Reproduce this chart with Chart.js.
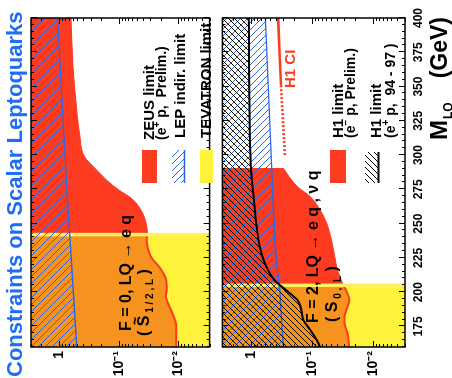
<!DOCTYPE html>
<html>
<head>
<meta charset="utf-8">
<script src="https://cdn.jsdelivr.net/npm/chart.js@4.4.1/dist/chart.umd.min.js"></script>
<style>
  html, body { margin:0; padding:0; background:#fff; width:452px; height:378px; overflow:hidden; }
  #rot { position:absolute; left:0; top:0; width:378px; height:452px; transform-origin:0 0; transform:translate(0px,378px) rotate(-90deg); }
  #c1 { position:absolute; left:0; top:0; }
  #c2 { position:absolute; left:0; top:210px; }
</style>
</head>
<body>
<div id="rot">
  <canvas id="c1" width="378" height="222"></canvas>
  <canvas id="c2" width="378" height="242"></canvas>
</div>
<script>
// ---- axis ranges and tick labels ----
const massRange = [160, 400];
const lambdaRange = [0.003, 3];
const massTickLabels = [175, 200, 225, 250, 275, 300, 325, 350, 375, 400];
const lambdaMajorTicks = [0.01, 0.1, 1];
const lambdaTickLabels = ['10⁻²', '10⁻¹', '1'];

// ---- F = 0 panel (S~1/2,L) ----
const tevatronF0 = 242;
const zeusMass   = [160, 175, 183, 191, 197, 202, 210, 217, 226, 239, 242, 248, 258.5, 268, 275, 280, 289, 299, 316, 340, 364, 400];
const zeusLambda = [0.0109, 0.0109, 0.0122, 0.0147, 0.0164, 0.0158, 0.0164, 0.020, 0.029, 0.034, 0.033, 0.034, 0.041, 0.060, 0.104, 0.145, 0.235, 0.38, 0.46, 0.53, 0.59, 0.64];
const lepF0Mass   = [160, 275, 400];
const lepF0Lambda = [0.51, 0.75, 1.07];

// ---- F = 2 panel (S0,L) ----
const tevatronF2 = 205;
const h1eMinusMass   = [160, 170, 177.5, 182, 189.4, 194.3, 200, 205, 216, 226, 238, 250.5, 260, 269.7, 277, 290.6];
const h1eMinusLambda = [0.0246, 0.0265, 0.0296, 0.0296, 0.0263, 0.0246, 0.027, 0.031, 0.0384, 0.0429, 0.0484, 0.0582, 0.0746, 0.108, 0.176, 0.304];
const h1ePlusMass   = [160, 165, 172.4, 179.7, 189.4, 194.3, 201.6, 208.9, 218.6, 233.2, 247.8, 272.4, 292.8, 400];
const h1ePlusLambda = [0.0746, 0.0843, 0.108, 0.140, 0.156, 0.176, 0.272, 0.42, 0.57, 0.73, 0.82, 0.93, 1.03, 1.11];
const lepF2Mass   = [160, 205, 224, 296, 400];
const lepF2Lambda = [0.30, 0.35, 0.39, 0.47, 0.59];
const h1ciSolidMass    = [351, 400];
const h1ciSolidLambda  = [0.327, 0.364];
const h1ciDottedMass   = [300, 351];
const h1ciDottedLambda = [0.282, 0.327];

// ---- styles ----
const FONT = "'Liberation Sans', Arial, Helvetica, sans-serif";
const RED = '#fc3b20', ORANGE = '#f6931f', YELLOW = '#fff23a', YLINE = '#fff060';
const BLUE = '#2b66e8', TITLE = '#1f6df5', BLACK = '#000';
const OFF2 = 210;

const pts = (ms, ls) => ms.map((m, i) => ({ x: m, y: ls[i] }));

function hatch(ctxRef, color, dir, n, lw) {
  const c = document.createElement('canvas'); c.width = n; c.height = n;
  const g = c.getContext('2d');
  g.strokeStyle = color; g.lineWidth = lw;
  g.beginPath();
  for (const o of [-n, 0, n]) {
    if (dir === '\\') { g.moveTo(o - 1, -1); g.lineTo(o + n + 1, n + 1); }
    else { g.moveTo(o - 1, n + 1); g.lineTo(o + n + 1, -1); }
  }
  g.stroke();
  return ctxRef.createPattern(c, 'repeat');
}

function runs(ctx, x, y, parts) {
  for (const p of parts) {
    ctx.font = `bold ${p.s}px ${FONT}`;
    ctx.fillText(p.t, x, y + (p.dy || 0));
    x += ctx.measureText(p.t).width;
  }
  return x;
}

function frameAndTicks(chart) {
  const { ctx, chartArea: a } = chart;
  const xs = chart.scales.x, ys = chart.scales.y;
  ctx.save();
  ctx.strokeStyle = BLACK; ctx.lineWidth = 1;
  ctx.beginPath();
  for (let m = massRange[0]; m <= massRange[1]; m += 5) {
    const px = Math.round(xs.getPixelForValue(m)) + 0.5;
    const len = massTickLabels.includes(m) ? 6 : 3;
    ctx.moveTo(px, a.top); ctx.lineTo(px, a.top + len);
    ctx.moveTo(px, a.bottom); ctx.lineTo(px, a.bottom - len);
  }
  for (let e = -3; e <= 0; e++) {
    for (let k = 1; k <= 9; k++) {
      const v = k * Math.pow(10, e);
      if (v < lambdaRange[0] * 0.999 || v > lambdaRange[1] * 1.001) continue;
      const py = Math.round(ys.getPixelForValue(v)) + 0.5;
      const len = k === 1 ? 6 : 3;
      ctx.moveTo(a.left, py); ctx.lineTo(a.left + len, py);
      ctx.moveTo(a.right, py); ctx.lineTo(a.right - len, py);
    }
  }
  ctx.stroke();
  ctx.lineWidth = 1.5;
  ctx.strokeRect(a.left, a.top, a.right - a.left, a.bottom - a.top);
  ctx.restore();
}

function baseOptions(padTop, padBottom, showX) {
  return {
    responsive: false, animation: false, devicePixelRatio: 1, events: [],
    layout: { padding: { left: 0, right: 18, top: padTop, bottom: padBottom } },
    elements: { point: { radius: 0, hitRadius: 0 }, line: { cubicInterpolationMode: 'monotone' } },
    plugins: { legend: { display: false }, tooltip: { enabled: false }, title: { display: false } },
    scales: {
      x: {
        type: 'linear', min: massRange[0], max: massRange[1], bounds: 'data', display: showX,
        grid: { display: false, drawTicks: false }, border: { display: false },
        afterBuildTicks: s => { s.ticks = massTickLabels.map(v => ({ value: v })); },
        ticks: { autoSkip: false, maxRotation: 0, minRotation: 0, padding: 6, color: BLACK,
                 font: { family: FONT, size: 12, weight: 'bold' }, callback: v => String(v) },
        afterFit: s => { s.height = showX ? 47 : 0; }
      },
      y: {
        type: 'logarithmic', min: lambdaRange[0], max: lambdaRange[1], bounds: 'data',
        grid: { display: false, drawTicks: false }, border: { display: false },
        afterBuildTicks: s => { s.ticks = lambdaMajorTicks.map(v => ({ value: v })); },
        ticks: { autoSkip: false, padding: 4, color: BLACK,
                 font: { family: FONT, size: 14, weight: 'bold' },
                 callback: (v, i) => lambdaTickLabels[i] },
        afterFit: s => { s.width = 31; }
      }
    }
  };
}

// ---------------- Panel F = 0 ----------------
const c1 = document.getElementById('c1');
const ctx1 = c1.getContext('2d');
const blueHatch1 = hatch(ctx1, BLUE, '\\', 7, 1);
const zeusPts = pts(zeusMass, zeusLambda);

const texts1 = {
  id: 'texts1',
  afterDatasetsDraw(chart) {
    frameAndTicks(chart);
    const ctx = chart.ctx;
    ctx.save();
    ctx.textAlign = 'left'; ctx.textBaseline = 'alphabetic';
    ctx.fillStyle = TITLE;
    runs(ctx, 1, 21.5, [{ t: 'Constraints on Scalar Leptoquarks', s: 22 }]);
    ctx.fillStyle = BLACK;
    runs(ctx, 47, 131, [{ t: 'F = 0, LQ → e q', s: 16 }]);
    let x = runs(ctx, 42, 149, [{ t: '( ', s: 16 }]);
    ctx.font = `bold 16px ${FONT}`;
    const sw = ctx.measureText('S').width;
    ctx.textAlign = 'center';
    runs(ctx, x + sw / 2, 140, [{ t: '~', s: 14 }]);
    ctx.textAlign = 'left';
    runs(ctx, x, 149, [{ t: 'S', s: 16 }, { t: ' 1 / 2 , L', s: 10, dy: 4 }, { t: ' )', s: 16 }]);
    // legend
    ctx.fillStyle = RED; ctx.fillRect(195, 142, 33, 15);
    ctx.fillStyle = blueHatch1; ctx.fillRect(195, 172, 33, 12);
    ctx.strokeStyle = BLUE; ctx.lineWidth = 1.5;
    ctx.beginPath(); ctx.moveTo(195, 184.5); ctx.lineTo(228, 184.5); ctx.stroke();
    ctx.fillStyle = YELLOW; ctx.fillRect(195, 200, 33, 13);
    ctx.fillStyle = BLACK;
    runs(ctx, 238, 153.5, [{ t: 'ZEUS limit', s: 15 }]);
    runs(ctx, 238, 165.5, [{ t: '(e', s: 14 }, { t: '+', s: 10, dy: -6 }, { t: ' p,  Prelim.)', s: 14 }]);
    runs(ctx, 240, 185, [{ t: 'LEP indir. limit', s: 15 }]);
    runs(ctx, 240, 210.5, [{ t: 'TEVATRON limit', s: 15 }]);
    ctx.restore();
  }
};

new Chart(c1, {
  type: 'line',
  data: {
    datasets: [
      { data: [{ x: massRange[0], y: lambdaRange[0] }, { x: tevatronF0, y: lambdaRange[0] }],
        fill: 'end', backgroundColor: YELLOW, borderWidth: 0, order: 10, clip: 0 },
      { data: zeusPts.filter(p => p.x <= tevatronF0), fill: 'end', backgroundColor: ORANGE,
        borderColor: RED, borderWidth: 2, order: 9, clip: 0 },
      { data: zeusPts.filter(p => p.x >= tevatronF0), fill: 'end', backgroundColor: RED,
        borderColor: RED, borderWidth: 1, order: 8, clip: 0 },
      { data: [{ x: tevatronF0, y: lambdaRange[0] }, { x: tevatronF0, y: lambdaRange[1] }],
        fill: false, borderColor: YLINE, borderWidth: 3.5, cubicInterpolationMode: 'default', tension: 0, order: 7, clip: 0 },
      { data: pts(lepF0Mass, lepF0Lambda), fill: 'end', backgroundColor: blueHatch1,
        borderColor: BLUE, borderWidth: 1.4, order: 6, clip: 0 }
    ]
  },
  options: baseOptions(31, 4, false),
  plugins: [texts1]
});

// ---------------- Panel F = 2 ----------------
const c2 = document.getElementById('c2');
const ctx2 = c2.getContext('2d');
const blueHatch2 = hatch(ctx2, BLUE, '\\', 7, 1);
const blackHatch2 = hatch(ctx2, BLACK, '/', 6, 1);
const h1mPts = pts(h1eMinusMass, h1eMinusLambda);

const texts2 = {
  id: 'texts2',
  afterDatasetsDraw(chart) {
    frameAndTicks(chart);
    const ctx = chart.ctx;
    ctx.save();
    ctx.textAlign = 'left'; ctx.textBaseline = 'alphabetic';
    ctx.fillStyle = BLACK;
    runs(ctx, 55, 318 - OFF2, [{ t: 'F = 2, LQ → e q , ν q', s: 16 }]);
    runs(ctx, 56, 337 - OFF2, [{ t: '( S', s: 16 }, { t: ' 0 ,  L', s: 10, dy: 4 }, { t: ' )', s: 16 }]);
    // legend
    ctx.fillStyle = RED; ctx.fillRect(195, 330 - OFF2, 33, 16);
    ctx.fillStyle = blackHatch2; ctx.fillRect(195, 365 - OFF2, 31, 13);
    ctx.strokeStyle = BLACK; ctx.lineWidth = 2;
    ctx.beginPath(); ctx.moveTo(195, 378.5 - OFF2); ctx.lineTo(226, 378.5 - OFF2); ctx.stroke();
    ctx.fillStyle = BLACK;
    runs(ctx, 240, 343 - OFF2, [{ t: 'H1 limit', s: 15 }]);
    runs(ctx, 240, 355 - OFF2, [{ t: '(e', s: 14 }, { t: '−', s: 10, dy: -6 }, { t: ' p, Prelim.)', s: 14 }]);
    runs(ctx, 240, 381 - OFF2, [{ t: 'H1 limit', s: 15 }]);
    runs(ctx, 240, 395 - OFF2, [{ t: '(e', s: 14 }, { t: '+', s: 10, dy: -6 }, { t: ' p,  94 - 97 )', s: 14 }]);
    ctx.fillStyle = RED;
    runs(ctx, 290, 295 - OFF2, [{ t: 'H1 CI', s: 15 }]);
    // axis title
    ctx.fillStyle = BLACK;
    const x = runs(ctx, 238, 447 - OFF2, [{ t: 'M', s: 24 }]);
    runs(ctx, x + 1, 451.5 - OFF2, [{ t: 'LQ', s: 12 }]);
    ctx.textAlign = 'right';
    ctx.font = `bold 23px ${FONT}`;
    ctx.fillText('(GeV)', 361, 447 - OFF2);
    ctx.restore();
  }
};

new Chart(c2, {
  type: 'line',
  data: {
    datasets: [
      { data: [{ x: massRange[0], y: lambdaRange[0] }, { x: tevatronF2, y: lambdaRange[0] }],
        fill: 'end', backgroundColor: YELLOW, borderWidth: 0, order: 20, clip: 0 },
      { data: h1mPts.filter(p => p.x <= tevatronF2), fill: 'end', backgroundColor: ORANGE,
        borderColor: RED, borderWidth: 2, order: 19, clip: 0 },
      { data: h1mPts.filter(p => p.x >= tevatronF2), fill: 'end', backgroundColor: RED,
        borderColor: RED, borderWidth: 1, order: 18, clip: 0 },
      { data: [{ x: tevatronF2, y: lambdaRange[0] }, { x: tevatronF2, y: lambdaRange[1] }],
        fill: false, borderColor: YLINE, borderWidth: 3.5, cubicInterpolationMode: 'default', tension: 0, order: 17, clip: 0 },
      { data: pts(lepF2Mass, lepF2Lambda), fill: 'end', backgroundColor: blueHatch2,
        borderColor: BLUE, borderWidth: 1.4, order: 16, clip: 0 },
      { data: pts(h1ePlusMass, h1ePlusLambda), fill: 'end', backgroundColor: blackHatch2,
        borderColor: BLACK, borderWidth: 2, order: 15, clip: 0 },
      { data: pts(h1ciSolidMass, h1ciSolidLambda), fill: false, borderColor: RED, borderWidth: 2.6,
        order: 14, clip: 0 },
      { data: pts(h1ciDottedMass, h1ciDottedLambda), fill: false, borderColor: RED, borderWidth: 2.6,
        borderDash: [2, 2], order: 13, clip: 0 }
    ]
  },
  options: baseOptions(8, 0, true),
  plugins: [texts2]
});
</script>
</body>
</html>
